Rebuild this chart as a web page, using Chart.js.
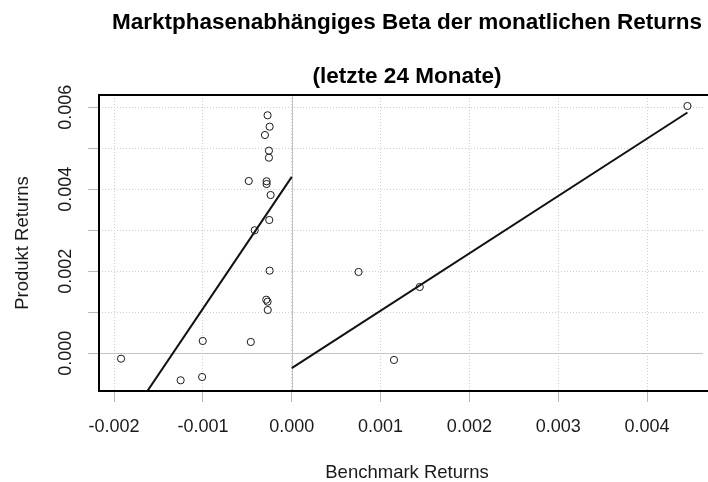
<!DOCTYPE html>
<html>
<head>
<meta charset="utf-8">
<script src="https://cdn.jsdelivr.net/npm/chart.js@4.4.0/dist/chart.umd.min.js"></script>
<style>
  html, body { margin: 0; padding: 0; background: #fff; }
  #wrap { width: 708px; height: 482px; }
</style>
</head>
<body>
<div id="wrap"><canvas id="betaChart" width="708" height="482"></canvas></div>
<script>
// monthly returns
var benchmarkReturns = [-0.000272, -0.000249, -0.000302, -0.000257, -0.000257, -0.000484,
                        -0.000283, -0.000283, -0.000238, -0.000253, -0.000417, -0.000249,
                        -0.000287, -0.000272, -0.000270, -0.001002, -0.000461, -0.001922,
                        -0.001251, -0.001009, 0.004455, 0.000752, 0.001441, 0.001151];
var produktReturns = [0.005805, 0.005527, 0.005324, 0.004942, 0.004771, 0.004202,
                      0.004195, 0.004129, 0.003861, 0.003251, 0.003000, 0.002015,
                      0.001307, 0.001259, 0.001056, 0.000300, 0.000276, -0.000132,
                      -0.000659, -0.000578, 0.006032, 0.001983, 0.001617, -0.000163];

var xTicks = [-0.002, -0.001, 0, 0.001, 0.002, 0.003, 0.004];
var yTicks = [0, 0.001, 0.002, 0.003, 0.004, 0.005, 0.006];
var yTickLabels = [0, 0.002, 0.004, 0.006];

var titleLines = ["Marktphasenabhängiges Beta der monatlichen Returns", "(letzte 24 Monate)"];
var xTitle = "Benchmark Returns";
var yTitle = "Produkt Returns";

var FONT = "'Liberation Sans', Arial, Helvetica, sans-serif";

// least squares fit, separately for falling and rising benchmark months
function fit(sign) {
    var xs = [], ys = [];
    for (var i = 0; i < benchmarkReturns.length; i++) {
        if (benchmarkReturns[i] * sign > 0) {
            xs.push(benchmarkReturns[i]);
            ys.push(produktReturns[i]);
        }
    }
    var mx = 0, my = 0;
    xs.forEach(function (v) { mx += v; });
    ys.forEach(function (v) { my += v; });
    mx /= xs.length; my /= ys.length;
    var sxy = 0, sxx = 0;
    for (var j = 0; j < xs.length; j++) {
        sxy += (xs[j] - mx) * (ys[j] - my);
        sxx += (xs[j] - mx) * (xs[j] - mx);
    }
    var b = sxy / sxx;
    var a = my - b * mx;
    var lo = sign < 0 ? Math.min.apply(null, xs) : 0;
    var hi = sign < 0 ? 0 : Math.max.apply(null, xs);
    return [{ x: lo, y: a + b * lo }, { x: hi, y: a + b * hi }];
}

var points = benchmarkReturns.map(function (v, i) {
    return { x: v, y: produktReturns[i] };
});

var decorations = {
    id: 'decorations',
    beforeDatasetsDraw: function (chart) {
        var ctx = chart.ctx, area = chart.chartArea;
        var x0 = chart.scales.x.getPixelForValue(0);
        var y0 = chart.scales.y.getPixelForValue(0);
        ctx.save();
        ctx.strokeStyle = '#c4c4c4';
        ctx.lineWidth = 1;
        ctx.beginPath();
        ctx.moveTo(Math.round(x0) + 0.5, area.top);
        ctx.lineTo(Math.round(x0) + 0.5, area.bottom);
        ctx.moveTo(area.left, Math.round(y0) + 0.5);
        ctx.lineTo(area.right, Math.round(y0) + 0.5);
        ctx.stroke();
        ctx.restore();
    },
    afterDraw: function (chart) {
        var ctx = chart.ctx, area = chart.chartArea;
        var xs = chart.scales.x, ys = chart.scales.y;
        ctx.save();
        // box (right side lies outside the canvas)
        ctx.strokeStyle = '#000';
        ctx.lineWidth = 2;
        ctx.strokeRect(area.left, area.top, area.right - area.left + 12, area.bottom - area.top);

        ctx.fillStyle = '#1a1a1a';
        ctx.font = '18px ' + FONT;
        ctx.textAlign = 'center';
        ctx.textBaseline = 'alphabetic';
        xTicks.forEach(function (v) {
            ctx.fillText(v.toFixed(3), xs.getPixelForValue(v), 432);
        });
        yTickLabels.forEach(function (v) {
            ctx.save();
            ctx.translate(71, ys.getPixelForValue(v));
            ctx.rotate(-Math.PI / 2);
            ctx.fillText(v.toFixed(3), 0, 0);
            ctx.restore();
        });

        var cx = 407;
        ctx.font = '18.5px ' + FONT;
        ctx.fillText(xTitle, cx, 478);
        ctx.save();
        ctx.translate(28, (area.top + area.bottom) / 2);
        ctx.rotate(-Math.PI / 2);
        ctx.fillText(yTitle, 0, 0);
        ctx.restore();

        ctx.fillStyle = '#000';
        ctx.font = 'bold 22.5px ' + FONT;
        ctx.fillText(titleLines[0], cx, 28.5);
        ctx.fillText(titleLines[1], cx, 83);
        ctx.restore();
    }
};

var ctxB = document.getElementById("betaChart").getContext('2d');
var betaChart = new Chart(ctxB, {
    type: 'scatter',
    data: {
        datasets: [{
                label: 'Returns',
                data: points,
                pointStyle: 'circle',
                pointRadius: 3.6,
                pointBorderWidth: 1,
                borderColor: '#1a1a1a',
                backgroundColor: 'rgba(0,0,0,0)'
            }, {
                label: 'Beta fallend',
                data: fit(-1),
                showLine: true,
                pointRadius: 0,
                borderColor: '#111',
                borderWidth: 2
            }, {
                label: 'Beta steigend',
                data: fit(1),
                showLine: true,
                pointRadius: 0,
                borderColor: '#111',
                borderWidth: 2
            }
        ]
    },
    options: {
        responsive: false,
        animation: false,
        events: [],
        layout: { padding: { left: 88, top: 95, right: 0, bottom: 80 } },
        plugins: { legend: { display: false }, tooltip: { enabled: false }, title: { display: false } },
        scales: {
            x: {
                type: 'linear',
                min: -0.00217,
                max: 0.00463,
                afterBuildTicks: function (scale) {
                    scale.ticks = xTicks.map(function (v) { return { value: v }; });
                },
                ticks: { display: false },
                grid: { color: '#cfcfcf', lineWidth: 1, tickColor: '#b8b8b8', tickLength: 11, drawTicks: true },
                border: { display: false, dash: [1, 2] }
            },
            y: {
                type: 'linear',
                min: -0.00092,
                max: 0.0063,
                afterBuildTicks: function (scale) {
                    scale.ticks = yTicks.map(function (v) { return { value: v }; });
                },
                ticks: { display: false },
                grid: { color: '#cfcfcf', lineWidth: 1, tickColor: '#b8b8b8', tickLength: 11, drawTicks: true },
                border: { display: false, dash: [1, 2] }
            }
        }
    },
    plugins: [decorations]
});
</script>
</body>
</html>
